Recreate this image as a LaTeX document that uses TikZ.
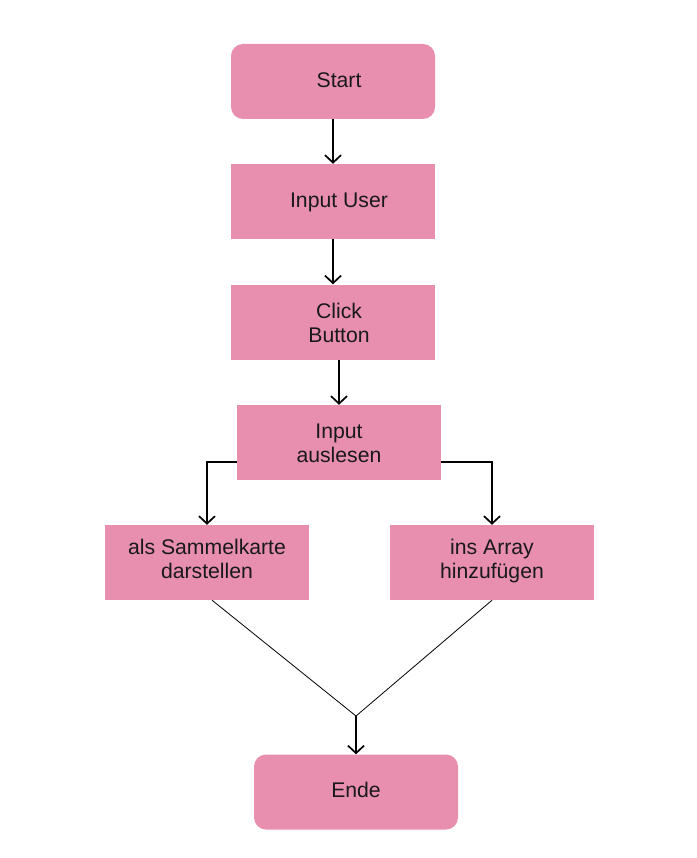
\documentclass[tikz,border=0pt]{standalone}
\usepackage{fontspec}
\setmainfont{Liberation Sans}
\usetikzlibrary{arrows.meta}
\definecolor{boxpink}{RGB}{232,143,176}
\definecolor{txt}{RGB}{25,25,25}
\begin{document}
\begin{tikzpicture}[x=1pt,y=-1pt,
  box/.style={fill=boxpink, draw=none, minimum width=204pt, minimum height=75pt, inner sep=0pt,
    align=center, text=txt, font=\fontsize{21.2}{23.7}\selectfont, text height=11.6pt, text depth=0pt},
  twoline/.style={text height=#1, text depth=0pt},
  rbox/.style={box, rounded corners=12pt},
  arr/.style={line width=1.7pt, -{Straight Barb[length=7.5pt,width=16pt,line width=1.7pt]}},
  thin/.style={line width=0.8pt}]
\useasboundingbox[fill=white] (0,0) rectangle (696,858);
\node[rbox] (start) at (333,81.5) {\hspace*{12pt}Start};
\node[box] (user) at (333,201.5) {\hspace*{12pt}Input User};
\node[box,twoline=40.6pt] (click) at (333,322) {\hspace*{12pt}Click\\\hspace*{12pt}Button};
\node[box,twoline=39.6pt] (ausl) at (339,442.5) {Input\\auslesen};
\node[box,twoline=31pt] (karte) at (207,562.5) {als Sammelkarte\\darstellen};
\node[box,twoline=31pt] (array) at (492,562.5) {ins Array\\hinzufügen};
\node[rbox] (ende) at (356,792) {Ende};
\coordinate (m) at (356,716);
\draw[arr] (start.south) -- (user.north);
\draw[arr] (user.south) -- (click.north);
\draw[arr] (ausl.north |- click.south) -- (ausl.north);
\draw[arr] ([yshift=-19.5pt]ausl.west) -| (karte.north);
\draw[arr] ([yshift=-19.5pt]ausl.east) -| (array.north);
\draw[thin] ([xshift=5pt]karte.south) -- (m) -- (array.south);
\draw[arr] (m) -- (ende.north);
\end{tikzpicture}
\end{document}
